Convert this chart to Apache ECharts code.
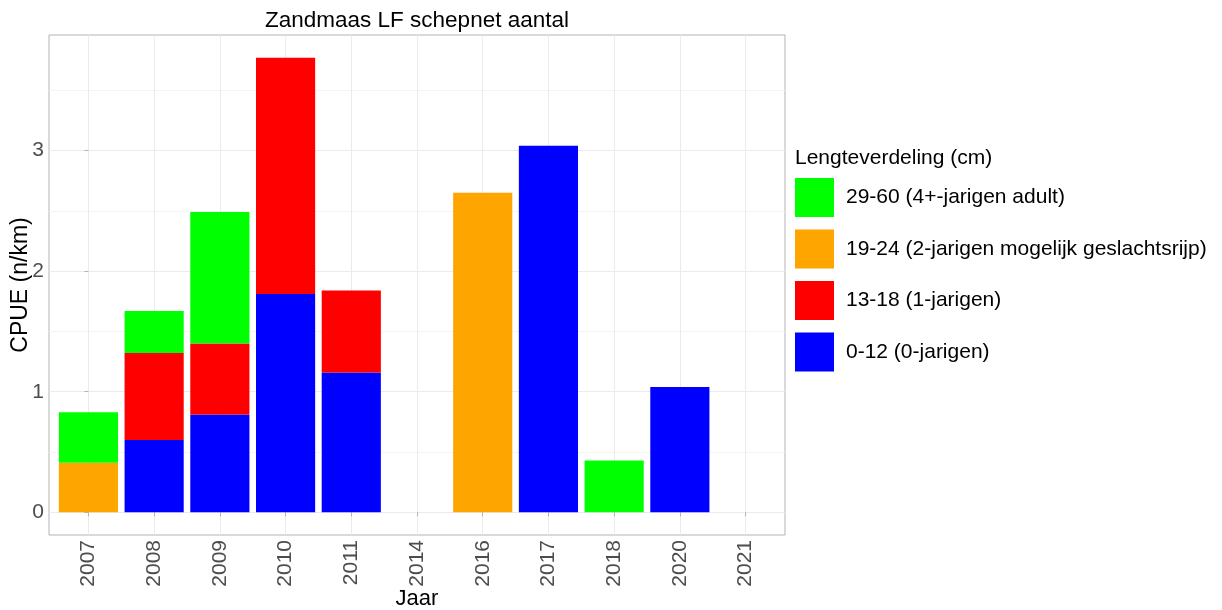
<!DOCTYPE html>
<html>
<head>
<meta charset="utf-8">
<script src="https://cdn.jsdelivr.net/npm/echarts@6/dist/echarts.min.js"></script>
<style>html,body{margin:0;padding:0;background:#fff}#c{width:1222px;height:610px}</style>
</head>
<body>
<div id="c"></div>
<script>
const years = ['2007','2008','2009','2010','2011','2014','2016','2017','2018','2020','2021'];
const seriesNames = ['0-12 (0-jarigen)', '13-18 (1-jarigen)', '19-24 (2-jarigen mogelijk geslachtsrijp)', '29-60 (4+-jarigen adult)'];
const blueVals   = [null, 0.60, 0.81, 1.81, 1.16, null, null, 3.04, null, 1.04, null];
const redVals    = [null, 0.72, 0.59, 1.96, 0.68, null, null, null, null, null, null];
const orangeVals = [0.41, null, null, null, null, null, 2.65, null, null, null, null];
const greenVals  = [0.42, 0.35, 1.09, null, null, null, null, null, 0.43, null, null];
const yTicks = [0, 1, 2, 3];
const yMinorTicks = [0.5, 1.5, 2.5, 3.5];
const colors = ['#0000ff', '#ff0000', '#ffa500', '#00ff00'];
const legendOrder = [seriesNames[3], seriesNames[2], seriesNames[1], seriesNames[0]];

const xIdx = years.map((y, i) => i);
// value first so that the stacked dimension is the y value
const toPairs = arr => arr.map((v, i) => [v, i]);
const allVals = [blueVals, redVals, orangeVals, greenVals];
const tops = years.map((y, i) => allVals.reduce((s, a) => s + (a[i] || 0), 0));
const dataMax = Math.max(...tops);
const yMin = -0.05 * dataMax, yMax = dataMax * 1.05;

const chart = echarts.init(document.getElementById('c'));
const font = 'Liberation Sans, Arial, sans-serif';
const barSeries = (k) => ({
  name: seriesNames[k], type: 'bar', stack: 'a', barWidth: '90%',
  encode: { x: 1, y: 0 },
  data: toPairs(allVals[k]), itemStyle: { color: colors[k] }
});
chart.setOption({
  backgroundColor: '#ffffff',
  animation: false,
  textStyle: { fontFamily: font },
  title: [
    { text: 'Zandmaas LF schepnet aantal', left: 417, top: 9, textAlign: 'center', padding: 0,
      textStyle: { fontSize: 22.5, fontWeight: 'normal', color: '#000', fontFamily: font } },
    { text: 'Lengteverdeling (cm)', left: 795, top: 148, padding: 0,
      textStyle: { fontSize: 21, fontWeight: 'normal', color: '#000', fontFamily: font } }
  ],
  legend: {
    data: legendOrder, orient: 'vertical', left: 795, top: 178, padding: 0,
    itemWidth: 39, itemHeight: 39, itemGap: 12.5, icon: 'rect',
    textStyle: { fontSize: 21, color: '#000', fontFamily: font, padding: [0, 0, 0, 7] },
    selectedMode: false
  },
  grid: { left: 49, top: 35, width: 736, height: 500, containLabel: false, outerBoundsMode: 'none',
    show: true, borderColor: '#b3b3b3', borderWidth: 1, backgroundColor: '#fff' },
  xAxis: {
    type: 'value', min: -0.6, max: years.length - 1 + 0.6,
    name: 'Jaar', nameLocation: 'middle', nameGap: 53, nameMoveOverlap: false,
    nameTextStyle: { fontSize: 22, color: '#000', fontFamily: font },
    axisLine: { show: false },
    axisTick: { show: true, length: 4, customValues: xIdx, lineStyle: { color: '#b3b3b3' } },
    axisLabel: { customValues: xIdx, rotate: 90, margin: 5, fontSize: 21, color: '#4d4d4d', fontFamily: font,
      formatter: v => years[Math.round(v)] },
    splitLine: { show: true, lineStyle: { color: '#ebebeb', width: 1 } }
  },
  yAxis: [
    { type: 'value', min: yMin, max: yMax,
      name: 'CPUE (n/km)', nameLocation: 'middle', nameGap: 17, nameMoveOverlap: false,
      nameTextStyle: { fontSize: 23, color: '#000', fontFamily: font },
      axisLine: { show: false },
      axisTick: { show: true, length: 4, customValues: yTicks, lineStyle: { color: '#b3b3b3' } },
      axisLabel: { customValues: yTicks, margin: 5, fontSize: 21, color: '#4d4d4d', fontFamily: font },
      splitLine: { show: true, lineStyle: { color: '#ebebeb', width: 1 } }
    },
    { type: 'value', min: yMin, max: yMax, position: 'left',
      axisLine: { show: false }, axisLabel: { show: false },
      axisTick: { show: false, customValues: yMinorTicks },
      splitLine: { show: true, lineStyle: { color: '#f4f4f4', width: 1 } }
    }
  ],
  series: [barSeries(0), barSeries(1), barSeries(2), barSeries(3)]
});
</script>
</body>
</html>
